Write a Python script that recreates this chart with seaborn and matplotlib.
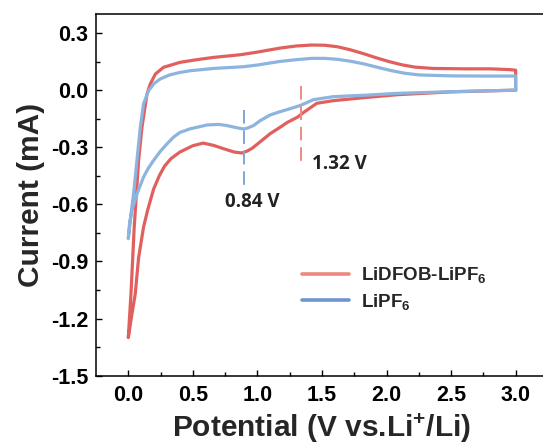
import numpy as np
import pandas as pd
import matplotlib
matplotlib.use("Agg")
import matplotlib.pyplot as plt
import seaborn as sns

# ---------------- data ----------------
series_names = ["LiDFOB-LiPF$_6$", "LiPF$_6$"]

red_lower_v = [3.0, 2.5, 2.08, 1.85, 1.59, 1.46, 1.36, 1.31, 1.23, 1.176, 1.10, 1.02, 0.96, 0.92,
               0.88, 0.82, 0.74, 0.66, 0.58, 0.50, 0.40, 0.33, 0.28, 0.24, 0.196, 0.15, 0.118,
               0.08, 0.054, 0.025, 0.0]
red_lower_i = [0.0, -0.009, -0.024, -0.038, -0.055, -0.069, -0.116, -0.142, -0.170, -0.195, -0.228,
               -0.272, -0.305, -0.320, -0.330, -0.325, -0.308, -0.290, -0.278, -0.292, -0.325,
               -0.36, -0.40, -0.45, -0.52, -0.63, -0.72, -0.88, -1.07, -1.19, -1.30]
red_upper_v = [0.0, 0.01, 0.021, 0.046, 0.08, 0.106, 0.145, 0.17, 0.21, 0.273, 0.40, 0.53, 0.66,
               0.867, 1.0, 1.176, 1.30, 1.42, 1.52, 1.62, 1.72, 1.82, 1.92, 2.02, 2.12, 2.22,
               2.36, 2.6, 2.8, 2.95, 3.0, 3.0]
red_upper_i = [-1.30, -1.19, -1.068, -0.719, -0.369, -0.195, -0.020, 0.032, 0.085, 0.12, 0.146,
               0.160, 0.172, 0.186, 0.200, 0.221, 0.232, 0.237, 0.236, 0.228, 0.212, 0.192,
               0.170, 0.150, 0.133, 0.121, 0.114, 0.112, 0.112, 0.108, 0.105, 0.0]

blue_lower_v = [3.0, 2.5, 2.08, 1.85, 1.59, 1.434, 1.33, 1.25, 1.176, 1.10, 1.022, 0.97, 0.92,
                0.89, 0.83, 0.764, 0.70, 0.609, 0.48, 0.40, 0.35, 0.30, 0.25, 0.196, 0.155, 0.118,
                0.07, 0.028, 0.01, 0.0]
blue_lower_i = [0.0, -0.008, -0.017, -0.026, -0.034, -0.050, -0.081, -0.098, -0.113, -0.130,
                -0.160, -0.186, -0.200, -0.204, -0.196, -0.186, -0.180, -0.183, -0.203, -0.222,
                -0.247, -0.282, -0.32, -0.369, -0.41, -0.457, -0.54, -0.63, -0.70, -0.78]
blue_upper_v = [0.0, 0.01, 0.025, 0.041, 0.067, 0.093, 0.118, 0.157, 0.20, 0.248, 0.32, 0.40,
                0.48, 0.66, 0.89, 1.0, 1.176, 1.30, 1.42, 1.52, 1.62, 1.72, 1.825, 1.93, 2.04,
                2.14, 2.25, 2.5, 2.76, 3.0, 3.0]
blue_upper_i = [-0.78, -0.72, -0.63, -0.544, -0.369, -0.195, -0.072, -0.003, 0.035, 0.059,
                0.080, 0.093, 0.102, 0.114, 0.123, 0.132, 0.151, 0.160, 0.167, 0.167, 0.162,
                0.152, 0.138, 0.120, 0.102, 0.089, 0.080, 0.075, 0.074, 0.074, 0.0]

peak_potentials = [0.90, 1.335]          # marker line positions
peak_labels = ["0.84 V", "1.32 V"]
marker_spans = [(-0.104, -0.50), (0.024, -0.378)]

x_ticks = [0.0, 0.5, 1.0, 1.5, 2.0, 2.5, 3.0]
y_ticks = [0.3, 0.0, -0.3, -0.6, -0.9, -1.2, -1.5]

# ---------------- style ----------------
sns.set_style("ticks")
plt.rcParams["font.family"] = ["Liberation Sans", "DejaVu Sans"]
plt.rcParams["font.weight"] = "bold"
plt.rcParams["mathtext.fontset"] = "custom"
plt.rcParams["mathtext.rm"] = "Liberation Sans:bold"
plt.rcParams["mathtext.it"] = "Liberation Sans:bold:italic"
plt.rcParams["mathtext.bf"] = "Liberation Sans:bold"
plt.rcParams["mathtext.default"] = "rm"

red = "#E0605E"
blue = "#8DB4DF"
red_leg = "#EE877D"
blue_leg = "#6F95D0"
red_dash = "#EE8A84"
blue_dash = "#7FA6D8"

# ---------------- build table ----------------
df = pd.concat([
    pd.DataFrame({"V": red_lower_v + red_upper_v, "I": red_lower_i + red_upper_i,
                  "sample": series_names[0]}),
    pd.DataFrame({"V": blue_lower_v + blue_upper_v, "I": blue_lower_i + blue_upper_i,
                  "sample": series_names[1]}),
], ignore_index=True)

fig = plt.figure(figsize=(5.43, 4.46), dpi=100)
ax = fig.add_axes([0.1768, 0.1576, 0.8323, 0.811])

sns.lineplot(data=df, x="V", y="I", hue="sample", hue_order=series_names,
             palette=[red, blue], sort=False, estimator=None, linewidth=2.3, ax=ax)

# marker dashed lines
for xv, (y0, y1), c in zip(peak_potentials, marker_spans, [blue_dash, red_dash]):
    ax.plot([xv, xv], [y0, y1], color=c, lw=1.4, dashes=(7, 3.5))

ax.text(0.958, -0.588, peak_labels[0], ha="center", va="center", fontsize=13.5,
        family=["Open Sans", "DejaVu Sans"], fontweight="bold", color="#222222")
ax.text(1.425, -0.387, peak_labels[1], ha="left", va="center", fontsize=13.5,
        family=["Open Sans", "DejaVu Sans"], fontweight="bold", color="#222222")

ax.set_xlim(-0.25, 3.25)
ax.set_ylim(-1.5, 0.4)
ax.set_xticks(x_ticks)
ax.set_yticks(y_ticks)
ax.set_xticks(np.arange(0.25, 3.0, 0.5), minor=True)
ax.set_yticks(np.arange(-1.35, 0.3, 0.3), minor=True)
ax.xaxis.set_major_formatter(matplotlib.ticker.FormatStrFormatter("%.1f"))
ax.yaxis.set_major_formatter(matplotlib.ticker.FormatStrFormatter("%.1f"))

ax.tick_params(which="both", direction="in", top=False, right=False, width=1.0,
               labelsize=15.5, colors="black")
ax.tick_params(which="major", length=4)
ax.tick_params(which="minor", length=3)
ax.tick_params(axis="x", pad=7)
ax.tick_params(axis="y", pad=5.5)
for sp in ax.spines.values():
    sp.set_linewidth(1.1)
    sp.set_color("black")

ax.set_xlabel("Potential (V vs.Li$^{+}$/Li)", fontsize=21.5, fontweight="bold", labelpad=4)
ax.set_ylabel("Current (mA)", fontsize=21.5, fontweight="bold", labelpad=4)

leg = ax.legend(loc="upper left", bbox_to_anchor=(0.455, 0.305), frameon=False,
                fontsize=13.5, handlelength=2.5, handletextpad=0.65, borderpad=0,
                borderaxespad=0, labelspacing=0.35, title=None)
for line, c in zip(leg.get_lines(), [red_leg, blue_leg]):
    line.set_color(c)
    line.set_linewidth(2.6)

fig.savefig("out.png", dpi=100)
